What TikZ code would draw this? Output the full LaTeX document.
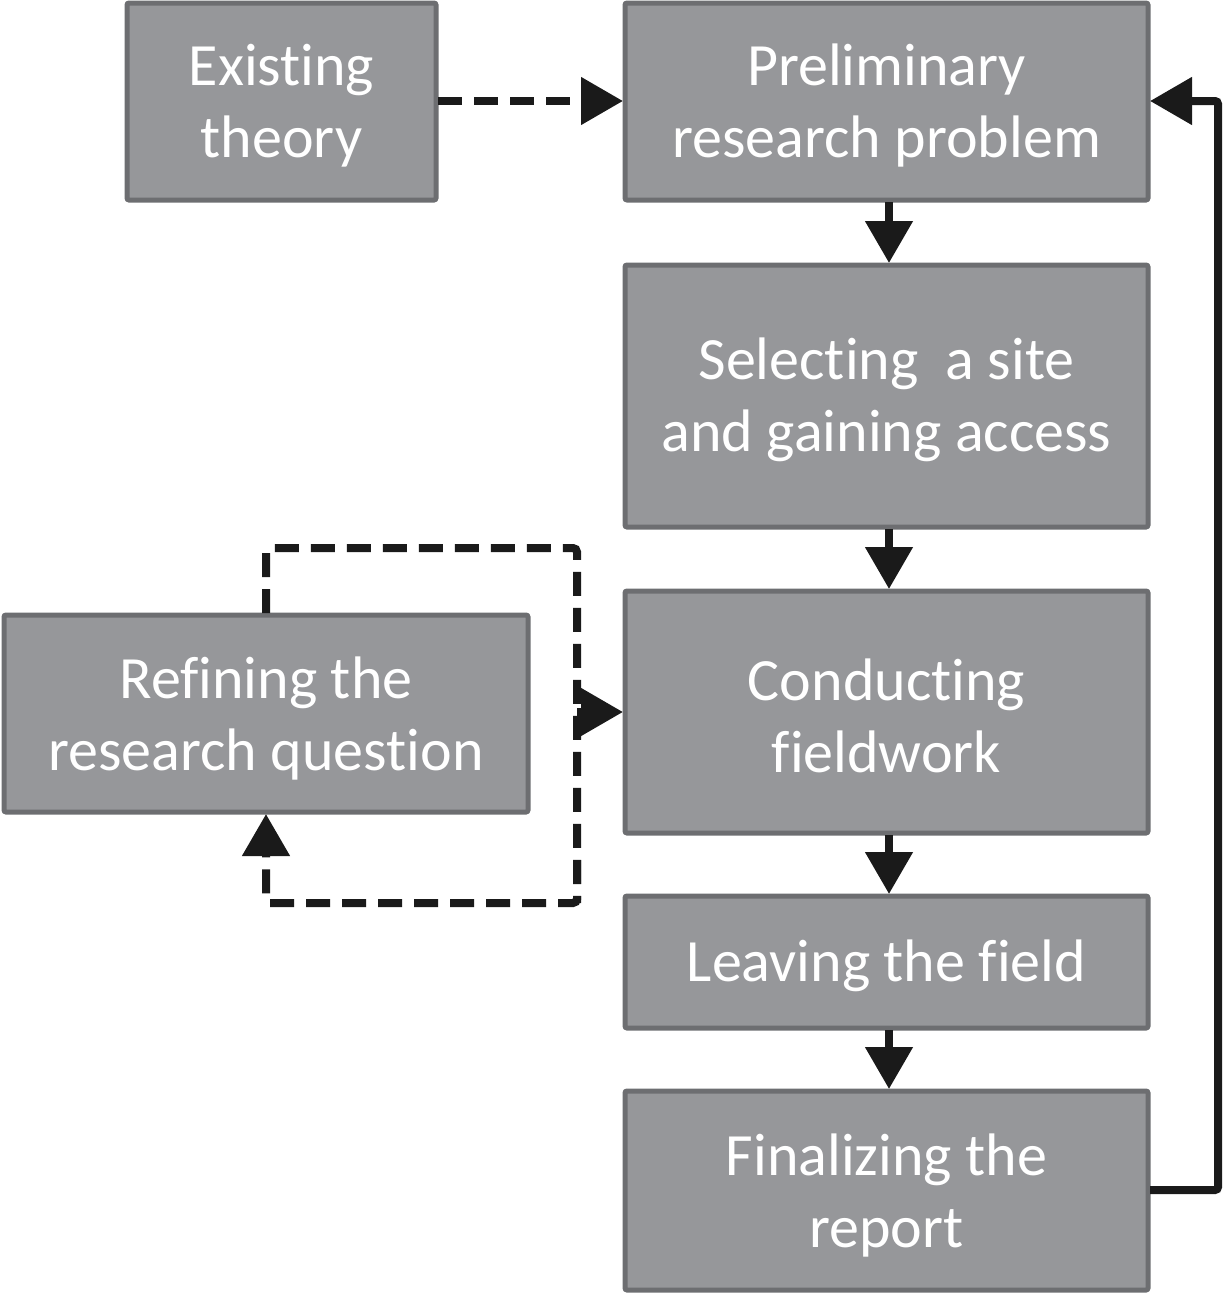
\documentclass[tikz,border=0pt]{standalone}
\usepackage{fontspec}
\setmainfont{Carlito}[Ligatures=NoCommon]
\usetikzlibrary{arrows.meta}
\begin{document}
\begin{tikzpicture}[x=1pt,y=-1pt,
  box/.style={draw=boxedge,fill=boxfill,line width=5pt,rounded corners=2pt},
  lbl/.style={text=white,font=\fontsize{60}{72}\selectfont,align=center},
  flow/.style={line width=8pt,-{Triangle[length=42pt,width=46pt]}},
  dashflow/.style={flow,dash pattern=on 24pt off 12pt,rounded corners=4pt},
  loop/.style={line width=8pt,dash pattern=on 24pt off 12pt,rounded corners=4pt},
]
\definecolor{boxfill}{HTML}{96979A}
\definecolor{boxedge}{HTML}{6D6E71}
\definecolor{ink}{HTML}{1A1A1A}
\useasboundingbox (0,0) rectangle (1225,1293);

% boxes
\draw[box] (127,3) rectangle (436,200);
\node[lbl] (theory) at (281.5,106) {Existing\\theory};
\draw[box] (625,3) rectangle (1148,200);
\node[lbl] (prelim) at (886.5,106) {Preliminary\\research problem};
\draw[box] (625,265) rectangle (1148,527);
\node[lbl] (site) at (886.5,400) {Selecting~ a site\\and gaining access};
\draw[box] (625,591) rectangle (1148,833);
\node[lbl] (field) at (886.5,716) {Conducting\\fieldwork};
\draw[box] (625,896) rectangle (1148,1028);
\node[lbl] (leave) at (886.5,966) {Leaving the field};
\draw[box] (625,1091) rectangle (1148,1290);
\node[lbl] (report) at (886.5,1195) {Finalizing the\\report};
\draw[box] (4,615) rectangle (528,812);
\node[lbl] (refine) at (266,718) {Refining the\\research question};

% anchor points on box edges
\coordinate (theoryE) at (438,101);
\coordinate (prelimW) at (623,101);
\coordinate (prelimS) at (889,202);
\coordinate (siteN) at (889,263);
\coordinate (siteS) at (889,529);
\coordinate (fieldN) at (889,589);
\coordinate (fieldS) at (889,835);
\coordinate (leaveN) at (889,894);
\coordinate (leaveS) at (889,1030);
\coordinate (reportN) at (889,1089);
\coordinate (reportE) at (1150,1190);
\coordinate (prelimE) at (1150,101);
\coordinate (fieldW) at (623,712);
\coordinate (refineN) at (266,613);
\coordinate (refineS) at (266,814);
\coordinate (loopR) at (577,712);

% main sequence
\draw[flow,ink] (prelimS) -- (siteN);
\draw[flow,ink] (siteS) -- (fieldN);
\draw[flow,ink] (fieldS) -- (leaveN);
\draw[flow,ink] (leaveS) -- (reportN);

% feedback to the research problem
\draw[flow,ink,rounded corners=3pt] (reportE) -- (1218,1190) -- (1218,101) -- (prelimE);

% theory input
\draw[dashflow,ink] (theoryE) -- (prelimW);

% refinement loop
\draw[loop,ink] (refineN) -- (266,548) -- (577,548) -- (577,903);
\draw[dashflow,ink] (577,860) -- (577,903) -- (266,903) -- (refineS);
\draw[flow,ink] (loopR) -- (fieldW);
\end{tikzpicture}
\end{document}
